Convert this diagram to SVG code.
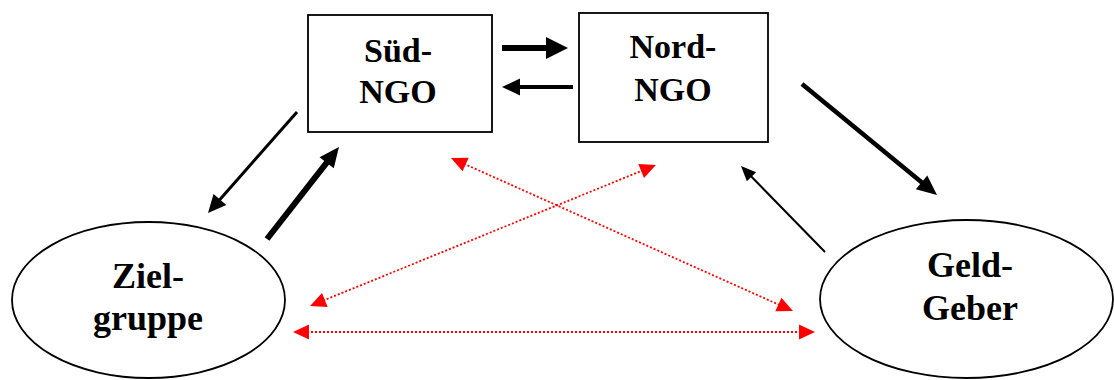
<svg xmlns="http://www.w3.org/2000/svg" width="1114" height="380" viewBox="0 0 1114 380">
<style>
.box{fill:#fff;stroke:#000;stroke-width:1.8}
.ell{fill:#fff;stroke:#000;stroke-width:1.8}
.lbl{font-family:"Liberation Serif","Times New Roman",serif;font-weight:bold;fill:#000;text-anchor:middle}
.bl{font-size:34px}
.el{font-size:36px}
.arr{stroke:#000;fill:none;stroke-linecap:butt}
.red{stroke:#ff0000;stroke-width:1.8;stroke-dasharray:2 2;fill:none;marker-start:url(#mRed);marker-end:url(#mRed)}
</style>
<defs>
<marker id="mBig" markerUnits="userSpaceOnUse" markerWidth="22" markerHeight="22" refX="2" refY="11" orient="auto" overflow="visible"><path d="M0,0 L22,11 L0,22 z" fill="#000"/></marker>
<marker id="mMed" markerUnits="userSpaceOnUse" markerWidth="20" markerHeight="18" refX="2" refY="9" orient="auto" overflow="visible"><path d="M0,0 L20,9 L0,18 z" fill="#000"/></marker>
<marker id="mMed2" markerUnits="userSpaceOnUse" markerWidth="18" markerHeight="17" refX="2" refY="8.5" orient="auto" overflow="visible"><path d="M0,0 L18,8.5 L0,17 z" fill="#000"/></marker>
<marker id="mSmall" markerUnits="userSpaceOnUse" markerWidth="15" markerHeight="13" refX="2" refY="6.5" orient="auto" overflow="visible"><path d="M0,0 L15,6.5 L0,13 z" fill="#000"/></marker>
<marker id="mRed" markerUnits="userSpaceOnUse" markerWidth="16" markerHeight="15" refX="2" refY="7.5" orient="auto-start-reverse" overflow="visible"><path d="M0,0 L16,7.5 L0,15 z" fill="#ff0000"/></marker>
</defs>
<g id="connectors">
<line class="arr" x1="502" y1="48" x2="548" y2="48" stroke-width="6" marker-end="url(#mBig)"/>
<line class="arr" x1="573" y1="87" x2="518" y2="87" stroke-width="4" marker-end="url(#mMed2)"/>
<line class="arr" x1="297" y1="112" x2="218.6" y2="201" stroke-width="3" marker-end="url(#mMed2)"/>
<line class="arr" x1="267" y1="239" x2="327.9" y2="161.2" stroke-width="6" marker-end="url(#mMed)"/>
<line class="arr" x1="802" y1="84" x2="923.1" y2="183.6" stroke-width="4.5" marker-end="url(#mMed)"/>
<line class="arr" x1="825" y1="252" x2="750.1" y2="175.3" stroke-width="2" marker-end="url(#mSmall)"/>
<line class="red" x1="463.8" y1="163.7" x2="780.2" y2="305.3"/>
<line class="red" x1="323" y1="300.7" x2="643" y2="170.3"/>
<line class="red" x1="307" y1="332" x2="801" y2="332"/>
</g>
<g id="sued-ngo">
<rect class="box" x="308" y="15" width="184" height="117"/>
<text class="lbl bl" x="398" y="62">Süd-</text>
<text class="lbl bl" x="398" y="103">NGO</text>
</g>
<g id="nord-ngo">
<rect class="box" x="579" y="13" width="189" height="129"/>
<text class="lbl bl" x="673" y="58">Nord-</text>
<text class="lbl bl" x="673" y="101">NGO</text>
</g>
<g id="zielgruppe">
<ellipse class="ell" cx="148.5" cy="300" rx="136.5" ry="78"/>
<text class="lbl el" x="148" y="288">Ziel-</text>
<text class="lbl el" x="148" y="330">gruppe</text>
</g>
<g id="geldgeber">
<ellipse class="ell" cx="966.5" cy="299" rx="146.5" ry="79"/>
<text class="lbl el" x="970" y="277">Geld-</text>
<text class="lbl el" x="970" y="320">Geber</text>
</g>
</svg>
